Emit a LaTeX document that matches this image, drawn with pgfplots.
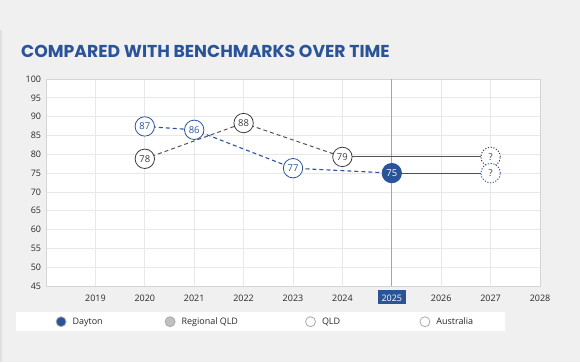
\documentclass[border=0pt]{standalone}
\usepackage{fontspec}
\usepackage{pgfplots}
\pgfplotsset{compat=1.18}
\setmainfont{Open Sans}
\newfontfamily\titlefont{Poppins}
\definecolor{bgc}{RGB}{240,240,240}
\definecolor{dblue}{RGB}{43,84,152}
\definecolor{grayl}{RGB}{85,85,85}
\definecolor{circg}{RGB}{60,60,60}
\definecolor{gridc}{RGB}{232,232,232}
\definecolor{framec}{RGB}{212,212,212}
\definecolor{vlc}{RGB}{165,165,165}
\definecolor{labc}{RGB}{40,40,40}
\definecolor{legb}{RGB}{170,170,170}
\definecolor{reggray}{RGB}{192,192,192}
\newcommand{\hl}[1]{{\setlength{\fboxsep}{3bp}\colorbox{dblue}{\hspace{1bp}\rule{0pt}{8bp}\textcolor{white}{#1}\hspace{1bp}}}}
\begin{document}
\begin{tikzpicture}[x=1bp,y=1bp]
\fill[bgc] (0,0) rectangle (580,362);
\useasboundingbox (0,0) rectangle (580,362);
\fill[black!12] (0,0) rectangle (1.5,332);
\fill[white] (16,31) rectangle (505,50.5);
\node[anchor=base west, inner sep=0, text=dblue, font=\titlefont\bfseries\fontsize{17.3}{20}\selectfont] at (21,305) {COMPARED WITH BENCHMARKS OVER TIME};
\begin{axis}[
  at={(46bp,76bp)}, anchor=south west,
  scale only axis, width=494bp, height=207bp,
  xmin=2018, xmax=2028, ymin=45, ymax=100,
  xtick={2019,2020,...,2028},
  xticklabels={2019,2020,2021,2022,2023,2024,{\hl{2025}},2026,2027,2028},
  ytick={45,50,...,100},
  grid=major,
  major grid style={draw=gridc, line width=0.7bp},
  axis line style={draw=framec, line width=0.8bp},
  axis background/.style={fill=white},
  major tick length=0pt,
  tick style={draw=none},
  ticklabel style={font=\fontsize{9}{10}\selectfont, text=labc, inner sep=0pt},
  yticklabel style={xshift=-4.7bp},
  xticklabel style={anchor=base, yshift=-15bp},
  /pgf/number format/assume math mode=true,
  clip=false,
  legend columns=4,
  legend style={draw=none, fill=none, at={(0.01964,-0.17246)}, anchor=west, inner sep=0pt, outer sep=0pt,
    nodes={inner sep=0pt, font=\fontsize{9}{10}\selectfont, text=labc}},
  every node near coord/.append style={anchor=center, font=\fontsize{9.5}{10}\selectfont},
]
% vertical line at current year
\addplot[vlc, line width=1bp, forget plot] coordinates {(2025,45) (2025,100)};
% gray benchmark
\addplot[grayl, line width=1bp, dash pattern=on 4bp off 3bp, forget plot] coordinates {(2020,78.8) (2022,88.3) (2024,79.3)};
\addplot[grayl, line width=1bp, forget plot] coordinates {(2024,79.3) (2027,79.3)};
\addplot[only marks, mark=*, mark size=9.7bp, mark options={draw=circg, fill=white, line width=0.8bp},
  nodes near coords, point meta=explicit symbolic,
  every node near coord/.append style={text=circg}, forget plot]
  table[meta=l] {
x y l
2020 78.8 78
2022 88.3 88
2024 79.3 79
};
\addplot[only marks, mark=*, mark size=9.7bp, mark options={draw=circg, fill=white, line width=0.9bp, dash pattern=on 1.2bp off 1.6bp},
  nodes near coords, point meta=explicit symbolic,
  every node near coord/.append style={text=circg}, forget plot]
  table[meta=l] {
x y l
2027 79.3 ?
};
% Dayton
\addplot[dblue, line width=1.1bp, dash pattern=on 4bp off 3bp, forget plot] coordinates {(2020,87.4) (2021,86.5) (2023,76.3) (2025,75)};
\addplot[dblue, line width=1.1bp, forget plot] coordinates {(2025,75) (2027,75)};
\addplot[only marks, mark=*, mark size=9.7bp, mark options={draw=dblue, fill=white, line width=0.8bp},
  nodes near coords, point meta=explicit symbolic,
  every node near coord/.append style={text=dblue}, forget plot]
  table[meta=l] {
x y l
2020 87.4 87
2021 86.5 86
2023 76.3 77
};
\addplot[only marks, mark=*, mark size=9.7bp, mark options={draw=dblue, fill=dblue, line width=0.8bp},
  nodes near coords, point meta=explicit symbolic,
  every node near coord/.append style={text=white}, forget plot]
  table[meta=l] {
x y l
2025 75 75
};
\addplot[only marks, mark=*, mark size=9.7bp, mark options={draw=dblue, fill=white, line width=0.9bp, dash pattern=on 1.2bp off 1.6bp},
  nodes near coords, point meta=explicit symbolic,
  every node near coord/.append style={text=circg}, forget plot]
  table[meta=l] {
x y l
2027 75 ?
};
% legend
\addlegendimage{legend image code/.code={\filldraw[fill=dblue, draw=legb, line width=0.8bp] (5bp,0) circle (5bp); \path[draw=none, fill=none] (0,0) -- (16.5bp,0);}}
\addlegendentry{\makebox[92.1bp][l]{Dayton}}
\addlegendimage{legend image code/.code={\filldraw[fill=reggray, draw=legb, line width=0.8bp] (5bp,0) circle (5bp); \path[draw=none, fill=none] (0,0) -- (16.5bp,0);}}
\addlegendentry{\makebox[123.5bp][l]{Regional QLD}}
\addlegendimage{legend image code/.code={\filldraw[fill=white, draw=legb, line width=0.8bp] (5bp,0) circle (5bp); \path[draw=none, fill=none] (0,0) -- (16.5bp,0);}}
\addlegendentry{\makebox[97.5bp][l]{QLD}}
\addlegendimage{legend image code/.code={\filldraw[fill=white, draw=legb, line width=0.8bp] (5bp,0) circle (5bp); \path[draw=none, fill=none] (0,0) -- (16.5bp,0);}}
\addlegendentry{Australia}
\end{axis}
\end{tikzpicture}
\end{document}
